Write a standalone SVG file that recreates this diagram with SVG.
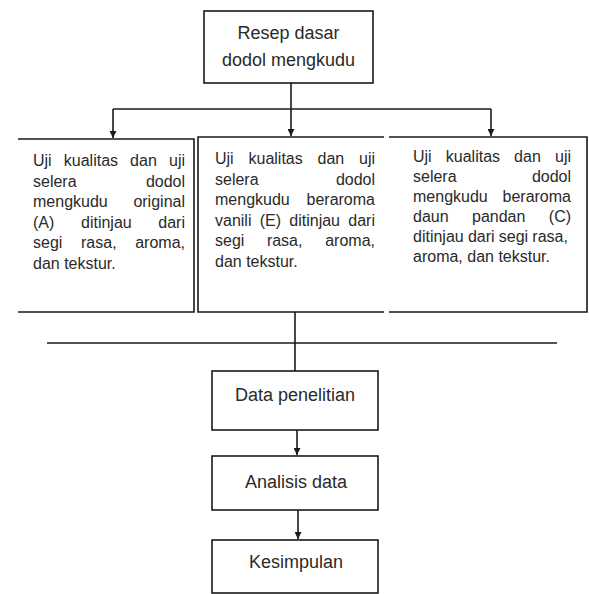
<svg xmlns="http://www.w3.org/2000/svg" width="589" height="594" viewBox="0 0 589 594">
<style>
.bg{fill:#ffffff}
.box{fill:none;stroke:#1a1a1a;stroke-width:1.6}
.ln{fill:none;stroke:#1a1a1a;stroke-width:1.6}
.t{font-family:"Liberation Sans",Arial,sans-serif;font-size:16px;fill:#2a2a2a}
.tb{font-family:"Liberation Sans",Arial,sans-serif;font-size:18px;fill:#2a2a2a;text-anchor:middle}
</style>
<defs>
<marker id="arr" viewBox="0 0 10 10" refX="10" refY="5" markerWidth="9" markerHeight="7" markerUnits="userSpaceOnUse" orient="auto">
<path d="M0,0 L10,5 L0,10 z" fill="#1a1a1a"/>
</marker>
</defs>
<rect class="bg" x="0" y="0" width="589" height="594"/>

<g id="connectors">
<line class="ln" x1="291" y1="83" x2="291" y2="109"/>
<line class="ln" x1="113" y1="109" x2="491" y2="109"/>
<line class="ln" x1="113" y1="109" x2="113" y2="138" marker-end="url(#arr)"/>
<line class="ln" x1="291" y1="109" x2="291" y2="136" marker-end="url(#arr)"/>
<line class="ln" x1="491" y1="109" x2="491" y2="136" marker-end="url(#arr)"/>
<line class="ln" x1="295" y1="312" x2="295" y2="371"/>
<line class="ln" x1="47" y1="343" x2="557" y2="343"/>
<line class="ln" x1="297" y1="430" x2="297" y2="455" marker-end="url(#arr)"/>
<line class="ln" x1="298" y1="510" x2="298" y2="539" marker-end="url(#arr)"/>
</g>

<g id="resep">
<rect class="box" x="204" y="11" width="169" height="72"/>
<text class="tb" x="288.5" y="39">Resep dasar</text>
<text class="tb" x="288.5" y="66">dodol mengkudu</text>
</g>

<g id="uji-a">
<path class="box" d="M18,139 H194 V312 H18"/>
<text class="t" y="166"><tspan x="33">Uji</tspan><tspan x="63.8">kualitas</tspan><tspan x="130.1">dan</tspan><tspan x="169">uji</tspan></text>
<text class="t" y="186.6"><tspan x="33">selera</tspan><tspan x="145.9">dodol</tspan></text>
<text class="t" y="207.2"><tspan x="33">mengkudu</tspan><tspan x="133.4">original</tspan></text>
<text class="t" y="227.8"><tspan x="33">(A)</tspan><tspan x="81">ditinjau</tspan><tspan x="158.3">dari</tspan></text>
<text class="t" y="248.4"><tspan x="33">segi</tspan><tspan x="81">rasa,</tspan><tspan x="135.2">aroma,</tspan></text>
<text class="t" x="33" y="269">dan tekstur.</text>
</g>

<g id="uji-b">
<path class="box" d="M384,137 H198 V312 H384"/>
<text class="t" y="164"><tspan x="215">Uji</tspan><tspan x="248.5">kualitas</tspan><tspan x="317.5">dan</tspan><tspan x="359">uji</tspan></text>
<text class="t" y="184.6"><tspan x="215">selera</tspan><tspan x="335.9">dodol</tspan></text>
<text class="t" y="205.2"><tspan x="215">mengkudu</tspan><tspan x="306.5">beraroma</tspan></text>
<text class="t" y="225.8"><tspan x="215">vanili</tspan><tspan x="259.7">(E)</tspan><tspan x="289.3">ditinjau</tspan><tspan x="348.3">dari</tspan></text>
<text class="t" y="246.4"><tspan x="215">segi</tspan><tspan x="266.9">rasa,</tspan><tspan x="325.2">aroma,</tspan></text>
<text class="t" x="215" y="267">dan tekstur.</text>
</g>

<g id="uji-c">
<path class="box" d="M389,137 H587 V312 H389"/>
<text class="t" y="162"><tspan x="413">Uji</tspan><tspan x="445.8">kualitas</tspan><tspan x="514.1">dan</tspan><tspan x="555">uji</tspan></text>
<text class="t" y="182"><tspan x="413">selera</tspan><tspan x="531.9">dodol</tspan></text>
<text class="t" y="202"><tspan x="413">mengkudu</tspan><tspan x="502.5">beraroma</tspan></text>
<text class="t" y="222"><tspan x="413">daun</tspan><tspan x="472">pandan</tspan><tspan x="548.8">(C)</tspan></text>
<text class="t" y="242"><tspan x="413">ditinjau</tspan><tspan x="467.9">dari</tspan><tspan x="498.8">segi</tspan><tspan x="532.3">rasa,</tspan></text>
<text class="t" x="413" y="262">aroma, dan tekstur.</text>
</g>

<g id="data">
<rect class="box" x="212" y="371" width="166" height="59"/>
<text class="tb" x="295" y="401">Data penelitian</text>
</g>

<g id="analisis">
<rect class="box" x="212" y="456" width="166" height="54"/>
<text class="tb" x="296" y="488">Analisis data</text>
</g>

<g id="kesimpulan">
<rect class="box" x="212" y="540" width="166" height="53"/>
<text class="tb" x="296" y="568">Kesimpulan</text>
</g>
</svg>
